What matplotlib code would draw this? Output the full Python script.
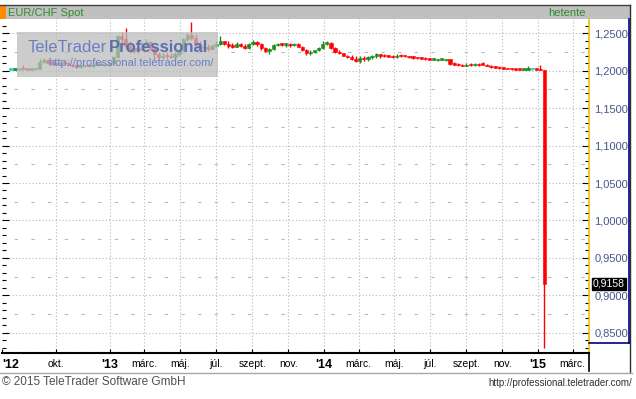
import numpy as np
import pandas as pd
import matplotlib
matplotlib.use('Agg')
import matplotlib.pyplot as plt
import matplotlib.dates as mdates
from matplotlib.patches import Rectangle
from matplotlib.lines import Line2D
from matplotlib.ticker import MultipleLocator, FuncFormatter
import matplotlib.transforms as mtransforms

plt.rcParams['font.family'] = ['Liberation Sans', 'DejaVu Sans']

# weekly EUR/CHF candles, first week starting 2012-07-16
start = '2012-07-16'
opens = [
    1.2010, 1.2010, 1.2012, 1.2040, 1.2015, 1.2012, 1.2015, 1.2020, 1.2110, 1.2140, 1.2100, 1.2090, 1.2085,
    1.2100, 1.2095, 1.2070, 1.2060, 1.2050, 1.2055, 1.2065, 1.2055, 1.2080, 1.2090, 1.2075, 1.2075,
    1.2105, 1.2180, 1.2460, 1.2420, 1.2330, 1.2260, 1.2300, 1.2280, 1.2350, 1.2380, 1.2300, 1.2220, 1.2180,
    1.2200, 1.2190, 1.2180, 1.2220, 1.2270, 1.2420, 1.2480, 1.2430, 1.2360, 1.2300, 1.2320, 1.2290, 1.2330,
    1.2350, 1.2390, 1.2360, 1.2330, 1.2320, 1.2350, 1.2330, 1.2300, 1.2360, 1.2380, 1.2350, 1.2300, 1.2260,
    1.2290, 1.2340, 1.2360, 1.2345, 1.2360, 1.2340, 1.2360, 1.2320, 1.2270, 1.2230, 1.2250, 1.2270, 1.2300,
    1.2360, 1.2370, 1.2300, 1.2250, 1.2230, 1.2200, 1.2180, 1.2150, 1.2130, 1.2170, 1.2150, 1.2180, 1.2200,
    1.2210, 1.2200, 1.2190, 1.2185, 1.2180, 1.2200, 1.2195, 1.2190, 1.2180, 1.2170, 1.2165, 1.2160, 1.2155,
    1.2145, 1.2140, 1.2145, 1.2140, 1.2150, 1.2090, 1.2080, 1.2070, 1.2060, 1.2080, 1.2075, 1.2085, 1.2090,
    1.2080, 1.2060, 1.2045, 1.2040, 1.2030, 1.2025, 1.2020, 1.2015, 1.2012, 1.2010, 1.2012, 1.2015, 1.2015,
    1.2010, 1.2010,
]
highs = [
    1.2012, 1.2015, 1.2020, 1.2080, 1.2025, 1.2020, 1.2025, 1.2150, 1.2170, 1.2160, 1.2130, 1.2110, 1.2120,
    1.2130, 1.2110, 1.2085, 1.2075, 1.2070, 1.2080, 1.2085, 1.2090, 1.2110, 1.2120, 1.2090, 1.2120,
    1.2190, 1.2480, 1.2520, 1.2570, 1.2390, 1.2330, 1.2340, 1.2380, 1.2420, 1.2400, 1.2310, 1.2250, 1.2230,
    1.2230, 1.2240, 1.2250, 1.2290, 1.2440, 1.2500, 1.2650, 1.2490, 1.2400, 1.2360, 1.2360, 1.2360, 1.2390,
    1.2460, 1.2400, 1.2390, 1.2370, 1.2380, 1.2370, 1.2360, 1.2370, 1.2410, 1.2400, 1.2370, 1.2320, 1.2300,
    1.2350, 1.2370, 1.2370, 1.2370, 1.2370, 1.2370, 1.2370, 1.2330, 1.2290, 1.2270, 1.2280, 1.2310, 1.2390,
    1.2390, 1.2380, 1.2310, 1.2270, 1.2240, 1.2210, 1.2210, 1.2190, 1.2190, 1.2190, 1.2190, 1.2210, 1.2230,
    1.2220, 1.2220, 1.2210, 1.2205, 1.2220, 1.2215, 1.2210, 1.2200, 1.2195, 1.2185, 1.2180, 1.2175, 1.2170,
    1.2165, 1.2160, 1.2160, 1.2160, 1.2155, 1.2110, 1.2100, 1.2085, 1.2100, 1.2095, 1.2105, 1.2100, 1.2115,
    1.2090, 1.2075, 1.2060, 1.2055, 1.2045, 1.2035, 1.2030, 1.2025, 1.2020, 1.2020, 1.2060, 1.2030, 1.2020,
    1.2070, 1.2012,
]
lows = [
    1.2008, 1.2008, 1.2008, 1.2010, 1.2010, 1.2010, 1.2010, 1.2015, 1.2095, 1.2085, 1.2080, 1.2075, 1.2070,
    1.2085, 1.2060, 1.2050, 1.2040, 1.2040, 1.2045, 1.2045, 1.2050, 1.2070, 1.2070, 1.2065, 1.2065,
    1.2090, 1.2170, 1.2370, 1.2300, 1.2240, 1.2230, 1.2240, 1.2270, 1.2320, 1.2280, 1.2140, 1.2150, 1.2150,
    1.2160, 1.2170, 1.2160, 1.2200, 1.2260, 1.2390, 1.2410, 1.2340, 1.2280, 1.2270, 1.2260, 1.2270, 1.2310,
    1.2345, 1.2340, 1.2300, 1.2300, 1.2310, 1.2310, 1.2290, 1.2290, 1.2340, 1.2330, 1.2280, 1.2250, 1.2220,
    1.2280, 1.2330, 1.2330, 1.2320, 1.2320, 1.2330, 1.2310, 1.2260, 1.2210, 1.2210, 1.2230, 1.2260, 1.2290,
    1.2340, 1.2290, 1.2230, 1.2220, 1.2190, 1.2170, 1.2140, 1.2110, 1.2100, 1.2130, 1.2130, 1.2160, 1.2170,
    1.2170, 1.2180, 1.2175, 1.2170, 1.2170, 1.2185, 1.2180, 1.2170, 1.2160, 1.2160, 1.2155, 1.2145, 1.2140,
    1.2135, 1.2130, 1.2135, 1.2130, 1.2080, 1.2070, 1.2060, 1.2055, 1.2055, 1.2065, 1.2060, 1.2065, 1.2070,
    1.2055, 1.2040, 1.2035, 1.2025, 1.2020, 1.2015, 1.2010, 1.2008, 1.2008, 1.2005, 1.2008, 1.2008, 1.2005,
    1.2005, 0.8300,
]
closes = [
    1.2010, 1.2012, 1.2012, 1.2015, 1.2012, 1.2015, 1.2020, 1.2110, 1.2140, 1.2100, 1.2090, 1.2085, 1.2100,
    1.2095, 1.2070, 1.2060, 1.2050, 1.2055, 1.2065, 1.2055, 1.2080, 1.2090, 1.2075, 1.2075, 1.2105,
    1.2180, 1.2460, 1.2420, 1.2330, 1.2260, 1.2300, 1.2280, 1.2350, 1.2380, 1.2300, 1.2220, 1.2180, 1.2200,
    1.2190, 1.2180, 1.2220, 1.2270, 1.2420, 1.2480, 1.2430, 1.2360, 1.2300, 1.2320, 1.2290, 1.2330, 1.2350,
    1.2390, 1.2360, 1.2330, 1.2320, 1.2350, 1.2330, 1.2300, 1.2360, 1.2380, 1.2350, 1.2300, 1.2260, 1.2290,
    1.2340, 1.2360, 1.2345, 1.2360, 1.2340, 1.2360, 1.2320, 1.2270, 1.2230, 1.2250, 1.2270, 1.2300, 1.2360,
    1.2370, 1.2300, 1.2250, 1.2230, 1.2200, 1.2180, 1.2150, 1.2130, 1.2170, 1.2150, 1.2180, 1.2200, 1.2210,
    1.2200, 1.2190, 1.2185, 1.2180, 1.2200, 1.2195, 1.2190, 1.2180, 1.2170, 1.2165, 1.2160, 1.2155, 1.2145,
    1.2155, 1.2150, 1.2150, 1.2150, 1.2090, 1.2080, 1.2070, 1.2060, 1.2080, 1.2075, 1.2085, 1.2070, 1.2080,
    1.2060, 1.2045, 1.2040, 1.2030, 1.2025, 1.2020, 1.2015, 1.2012, 1.2010, 1.2012, 1.2015, 1.2015, 1.2010,
    1.2008, 0.9158,
]
last_label = '0,9158'

tick_dates = ['2012-07-01', '2012-10-01', '2013-01-01', '2013-03-01', '2013-05-01', '2013-07-01',
              '2013-09-01', '2013-11-01', '2014-01-01', '2014-03-01', '2014-05-01', '2014-07-01',
              '2014-09-01', '2014-11-01', '2015-01-01', '2015-03-01']
tick_labels = ["'12", 'okt.', "'13", 'márc.', 'máj.', 'júl.', 'szept.', 'nov.', "'14", 'márc.', 'máj.',
               'júl.', 'szept.', 'nov.', "'15", 'márc.']

W, H = 636, 399


def fx(x):
    return x / W


def fy(y):
    return 1 - y / H


fig = plt.figure(figsize=(W / 100, H / 100), dpi=100)
fig.patch.set_facecolor('white')

ax = fig.add_axes([fx(2), fy(353), (589 - 2) / W, (353 - 19) / H])
ax.set_facecolor('white')

dates = pd.date_range(start, periods=len(closes), freq='7D')
xd = mdates.date2num(dates)
o = np.array(opens)
c = np.array(closes)
hi = np.array(highs)
lo = np.array(lows)

green, red, cyan = '#1a8a1a', '#ff0000', '#00d0d0'
cols = np.where(c > o, green, np.where(c < o, red, cyan))
ax.vlines(xd, lo, hi, colors=cols, lw=1, zorder=3)
bottom = np.minimum(o, c)
height = np.maximum(np.abs(c - o), 0.0018)
ax.bar(xd, height, bottom=bottom, width=5.5, color=cols, edgecolor=cols, lw=0.4, zorder=4)

ax.set_xlim(mdates.date2num(pd.Timestamp('2012-07-01')), mdates.date2num(pd.Timestamp('2015-03-29')))
ax.set_ylim(0.82333, 1.26867)

# grid
tx = mdates.date2num(pd.to_datetime(tick_dates))
for t in tx[1:]:
    ax.axvline(t, color='#b8b8b8', lw=0.8, ls=(0, (1, 2)), zorder=1)
for v in np.arange(0.85, 1.26, 0.05):
    ax.axhline(v, color='#b8b8b8', lw=0.8, ls=(0, (1, 2)), zorder=1)
for v in np.arange(0.825, 1.26, 0.05):
    ax.axhline(v, color='#b8b8b8', lw=0.8, ls=(4, (3, 12)), zorder=1)

ax.yaxis.set_major_locator(MultipleLocator(0.05))
ax.yaxis.set_minor_locator(MultipleLocator(0.01))
ax.yaxis.set_major_formatter(FuncFormatter(lambda v, p: f'{v:.4f}'.replace('.', ',')))
ax.tick_params(axis='y', which='both', left=True, right=True, labelleft=False, labelright=True,
               direction='in', color='black', width=0.8)
ax.tick_params(axis='y', which='major', length=5, labelsize=8, labelcolor='#46568a', pad=4)
ax.tick_params(axis='y', which='minor', length=3)

ax.set_xticks(tx)
ax.set_xticklabels(tick_labels)
ax.tick_params(axis='x', direction='in', length=3, color='black', labelsize=7.5, pad=4)
for lab, txt in zip(ax.get_xticklabels(), tick_labels):
    if txt.startswith("'"):
        lab.set_fontweight('bold')
        lab.set_fontsize(9)
ax.get_xticklabels()[0].set_horizontalalignment('left')

for s in ['top', 'left']:
    ax.spines[s].set_visible(False)
ax.spines['bottom'].set_color('black')
ax.spines['bottom'].set_linewidth(1.5)
ax.spines['right'].set_color('#f0c000')
ax.spines['right'].set_linewidth(1.2)

# last value marker
trans = mtransforms.blended_transform_factory(ax.transAxes, ax.transData)
ax.text(1.007, c[-1], last_label, transform=trans, ha='left', va='center', color='white', fontsize=7.5,
        bbox=dict(boxstyle='square,pad=0.1', fc='black', ec='black'), zorder=10, clip_on=False)

# header bar
fig.add_artist(Rectangle((fx(0), fy(19)), fx(630), fy(5) - fy(19), transform=fig.transFigure,
                         fc='#c0c0c0', ec='none'))
fig.add_artist(Rectangle((fx(0), fy(19)), fx(6), fy(6) - fy(19), transform=fig.transFigure,
                         fc='#ff8c00', ec='none'))
fig.add_artist(Line2D([fx(0), fx(630)], [fy(5), fy(5)], color='#404040', lw=1))
fig.text(fx(8), fy(12.5), 'EUR/CHF Spot', color='#2e8b2e', fontsize=8, va='center', ha='left')
fig.text(fx(586), fy(12.5), 'hetente', color='#2e8b2e', fontsize=8, va='center', ha='right')

# right axis frame
fig.add_artist(Line2D([fx(630), fx(630)], [fy(5), fy(372)], color='#303030', lw=1))
fig.add_artist(Line2D([fx(629), fx(629)], [fy(19), fy(343)], color='#000080', lw=1.2))
fig.add_artist(Line2D([fx(589), fx(629)], [fy(343), fy(343)], color='#000080', lw=1.2))
fig.add_artist(Line2D([fx(589), fx(589)], [fy(353), fy(371)], color='black', lw=1.2))
fig.add_artist(Line2D([fx(0), fx(632)], [fy(372.5), fy(372.5)], color='#a8a8a8', lw=1))

# watermark
fig.add_artist(Rectangle((fx(17), fy(77)), fx(218) - fx(17), fy(32) - fy(77), transform=fig.transFigure,
                         fc='#bdbdbd', ec='none', alpha=0.75, zorder=20))
fig.text(fx(28), fy(47), 'TeleTrader', color='#6a7ec6', fontsize=12, va='center', ha='left', zorder=21)
fig.text(fx(109), fy(47), 'Professional', color='#5c6fb0', fontsize=12, fontweight='bold', va='center',
         ha='left', zorder=21)
fig.text(fx(48), fy(63), 'http://professional.teletrader.com/', color='#6a7ec6', fontsize=8, va='center',
         ha='left', zorder=21)

# footer
fig.text(fx(2), fy(382), '© 2015 TeleTrader Software GmbH', color='#505050', fontsize=8.5, va='center',
         ha='left')
fig.text(fx(632), fy(383), 'http://professional.teletrader.com/', color='#303030', fontsize=7, va='center',
         ha='right')

fig.savefig('out.png', dpi=100)
